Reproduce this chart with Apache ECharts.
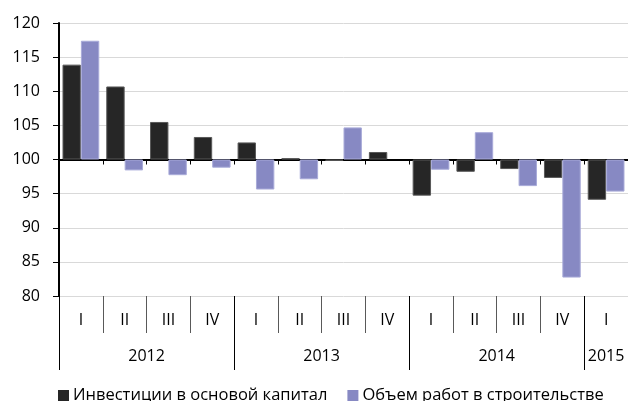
<!DOCTYPE html>
<html><head><meta charset="utf-8">
<script src="https://cdn.jsdelivr.net/npm/echarts@6/dist/echarts.min.js"></script>
<style>html,body{margin:0;padding:0;background:#fff}#c{width:628px;height:401px}</style>
</head><body><div id="c"></div>
<script>
var quarters = ['I','II','III','IV','I','II','III','IV','I','II','III','IV','I'];
var years = ['2012','2013','2014','2015'];
var yearSpans = [4,4,4,1];
var investments = [113.9,110.7,105.5,103.3,102.5,100.2,99.8,101.1,94.7,98.2,98.6,97.3,94.1];
var construction = [117.4,98.4,97.7,98.8,95.6,97.1,104.7,null,98.5,104.0,96.1,82.7,95.3];
var seriesNames = ['Инвестиции в основой капитал','Объем работ в строительстве'];
var baseLine = 100;

// year axis built from half-quarter slots (boundaryGap false)
var nSlots = quarters.length*2;
var yearAxisData = [], yearTickIdx = {}, yearLabelIdx = {};
for (var i=0;i<=nSlots;i++) yearAxisData.push('');
var pos = 0;
yearTickIdx[0] = true;
for (var k=0;k<years.length;k++){
  var center = pos*2 + yearSpans[k];
  yearAxisData[center] = years[k];
  yearLabelIdx[center] = true;
  pos += yearSpans[k];
  yearTickIdx[pos*2] = true;
}
function dev(arr){return arr.map(function(v){return v==null?null:+(v-baseLine).toFixed(2);});}

var font = 'Open Sans';
var chart = echarts.init(document.getElementById('c'));
chart.setOption({
  animation:false,
  grid:{left:59,right:0,top:23,bottom:105},
  legend:{
    left:53, top:382, icon:'rect', itemWidth:11, itemHeight:11, itemGap:20,
    itemStyle:{borderWidth:0},
    textStyle:{fontFamily:font,fontSize:16.5,color:'#000',padding:[0,0,0,-1]},
    data:seriesNames
  },
  yAxis:{
    type:'value', min:-20, max:20, interval:5,
    axisLine:{show:true,lineStyle:{color:'#000',width:2}},
    axisTick:{show:true,length:6,lineStyle:{color:'#000',width:1}},
    axisLabel:{fontFamily:font,fontSize:16,color:'#000',margin:19,
      formatter:function(v){return String(v+baseLine);}},
    splitLine:{show:true,lineStyle:{color:'#d9d9d9',width:1}}
  },
  xAxis:[
    {type:'category',data:quarters,position:'bottom',
     axisLine:{onZero:true,lineStyle:{color:'#000',width:2}},
     axisTick:{show:true,length:5,lineStyle:{color:'#000',width:1}},
     axisLabel:{show:false}},
    {type:'category',data:quarters,position:'bottom',offset:0,
     axisLine:{show:false,onZero:false},
     axisTick:{show:true,length:37,lineStyle:{color:'#595959',width:1}},
     axisLabel:{show:true,fontFamily:font,fontSize:16,color:'#000',margin:16}},
    {type:'category',data:yearAxisData,boundaryGap:false,position:'bottom',offset:0,
     axisLine:{show:false,onZero:false},
     axisTick:{show:true,length:74,lineStyle:{color:'#000',width:1},
       interval:function(idx){return !!yearTickIdx[idx];}},
     axisLabel:{show:true,fontFamily:font,fontSize:16,color:'#000',margin:52,
       interval:function(idx){return !!yearLabelIdx[idx];}}}
  ],
  series:[
    {name:seriesNames[0],type:'bar',xAxisIndex:0,data:dev(investments),
     barGap:'0%',barCategoryGap:'16%',
     itemStyle:{color:'#262626',borderColor:'#595959',borderWidth:1}},
    {name:seriesNames[1],type:'bar',xAxisIndex:0,data:dev(construction),
     barGap:'0%',barCategoryGap:'16%',
     itemStyle:{color:'#8789c3',borderColor:'#a9abd9',borderWidth:1}}
  ]
});
</script></body></html>
